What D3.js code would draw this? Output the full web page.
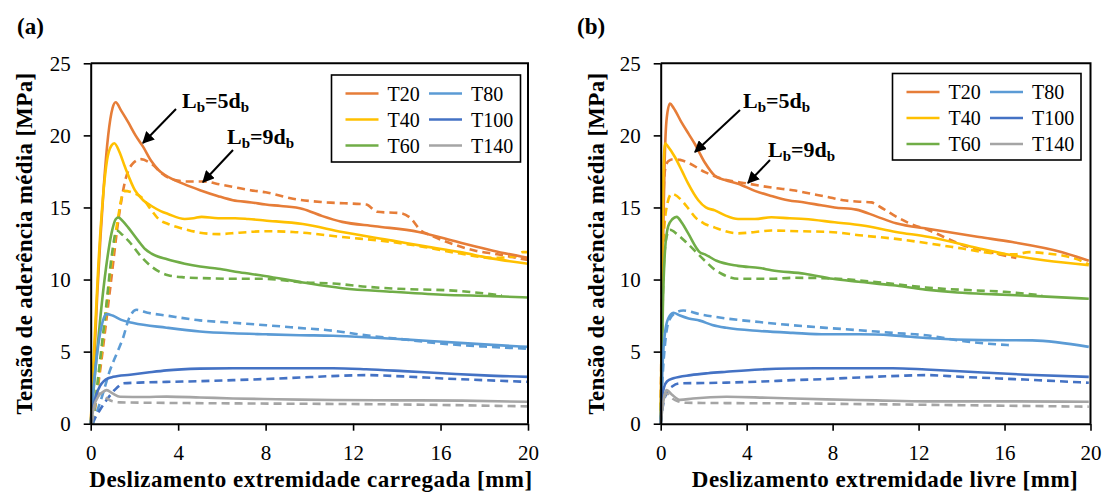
<!DOCTYPE html>
<html>
<head>
<meta charset="utf-8">
<script src="https://cdn.jsdelivr.net/npm/d3@7"></script>
<style>
  html, body { margin: 0; padding: 0; background: #fff; }
  svg { display: block; }
</style>
</head>
<body>
<svg id="chart" width="1107" height="493"></svg>
<script>
// Bond stress vs slip, two panels: (a) loaded end, (b) free end.
// Solid = Lb=5db, dashed = Lb=9db. [slip mm, stress MPa].

const SERIES_NAMES = ["T20", "T40", "T60", "T80", "T100", "T140"];
const X_TICKS = [0, 4, 8, 12, 16, 20];
const Y_TICKS = [0, 5, 10, 15, 20, 25];

// ---- panel (a): loaded end ----
const a5_T20 = [[0,0],[0.15,4],[0.3,9],[0.45,13],[0.6,16.5],[0.8,20],[1.0,21.9],[1.14,22.3],[1.4,21.7],[1.72,20.9],[2.05,20.0],[2.4,19.2],[2.78,18.2],[3.1,17.6],[3.4,17.25],[4.3,16.6],[5.0,16.2],[5.8,15.8],[6.5,15.5],[7.35,15.35],[8.0,15.2],[8.7,15.1],[9.7,14.9],[10.6,14.4],[11.5,14.0],[13.0,13.7],[15.0,13.3],[16.8,12.6],[18.4,12.0],[20,11.5]];
const a9_T20 = [[0.1,0],[0.5,4.5],[0.9,9.5],[1.3,14.5],[1.6,17],[1.9,18],[2.3,18.35],[2.8,18],[3.3,17.3],[3.85,16.9],[4.5,16.8],[5.2,16.8],[5.9,16.6],[6.6,16.4],[7.3,16.2],[8.0,16.05],[9.25,15.6],[10.8,15.35],[12.6,15.2],[13.1,14.7],[14.2,14.6],[14.6,14.3],[15.1,13.4],[15.5,13.1],[16.3,12.6],[17.6,12.0],[18.6,11.75],[20,11.35]];
const a5_T40 = [[0,0],[0.15,5],[0.35,11],[0.55,15.5],[0.75,18.3],[0.95,19.3],[1.08,19.45],[1.3,18.9],[1.57,17.8],[2.02,16.2],[2.4,15.5],[2.78,15.1],[3.2,14.75],[3.54,14.55],[4.3,14.2],[4.7,14.25],[5.07,14.35],[5.83,14.25],[6.6,14.25],[7.2,14.2],[7.96,14.1],[9.7,13.85],[11.5,13.3],[13.8,12.7],[15.3,12.3],[16.9,11.9],[18.4,11.45],[20,11.1]];
const a9_T40 = [[0.1,0],[0.5,5],[0.9,10.5],[1.2,13.8],[1.54,16.15],[1.87,16.05],[2.33,15.7],[2.78,14.8],[3.1,14.2],[3.54,13.85],[4.3,13.5],[5.0,13.25],[5.83,13.15],[6.8,13.25],[7.96,13.35],[9.25,13.3],[11.5,12.95],[13.8,12.6],[15.3,12.25],[16.9,11.8],[18.4,11.5],[19.4,11.6],[19.75,11.9],[20,11.9]];
const a5_T60 = [[0,0],[0.2,3.5],[0.45,7.5],[0.7,10.8],[0.95,13.2],[1.15,14.2],[1.26,14.3],[1.5,14],[1.72,13.6],[2.17,12.7],[2.5,12.1],[2.78,11.8],[3.5,11.4],[4.3,11.1],[5.0,10.9],[5.83,10.75],[6.8,10.5],[7.96,10.25],[9.7,9.8],[11.5,9.4],[13.8,9.15],[16.1,8.95],[18.4,8.85],[20,8.75]];
const a9_T60 = [[0.1,0],[0.4,4],[0.7,8],[0.95,11.5],[1.19,13.4],[1.45,13.1],[1.72,12.7],[2.33,11.55],[2.78,10.9],[3.54,10.3],[4.3,10.15],[5.07,10.1],[6.5,10.05],[8.0,10.05],[9.7,9.8],[11.1,9.72],[12.6,9.5],[13.8,9.38],[16.9,9.2],[18.8,8.9]];
const a5_T80 = [[0,0],[0.15,2.8],[0.35,5.5],[0.55,7.1],[0.73,7.6],[1.0,7.5],[1.4,7.2],[1.95,6.98],[3.47,6.66],[4.99,6.4],[6.51,6.27],[8.04,6.2],[9.56,6.14],[11.08,6.1],[12.6,6.0],[14.3,5.85],[16.1,5.68],[18,5.5],[20,5.33]];
const a9_T80 = [[0.1,0],[0.5,1.8],[0.88,3.7],[1.2,4.9],[1.49,6.0],[1.75,7.3],[2.1,7.9],[2.6,7.7],[3.47,7.5],[4.99,7.17],[6.5,7.0],[8.04,6.83],[9.5,6.65],[11.08,6.45],[12.6,6.13],[14.3,5.85],[16.1,5.55],[18,5.35],[20,5.2]];
const a5_T100 = [[0,0],[0.1,1],[0.25,2],[0.42,2.6],[0.6,2.95],[0.8,3.15],[1.03,3.25],[1.8,3.4],[2.6,3.55],[3.47,3.7],[4.99,3.82],[6.5,3.85],[8.04,3.85],[11.08,3.85],[12.6,3.78],[14.3,3.65],[16.1,3.5],[18,3.35],[20,3.25]];
const a9_T100 = [[0.05,0],[0.4,0.9],[0.8,1.8],[1.2,2.5],[1.49,2.8],[2.2,2.85],[3.47,2.9],[5,2.95],[6.51,3.02],[8,3.1],[9.56,3.2],[11,3.3],[12.6,3.37],[14.3,3.28],[16.1,3.14],[18,3.02],[20,2.9]];
const a5_T140 = [[0,0],[0.15,1.2],[0.35,1.9],[0.55,2.2],[0.73,2.33],[1.0,2.1],[1.34,1.87],[2.5,1.85],[3.47,1.88],[5,1.82],[6.51,1.75],[8.5,1.7],[11.08,1.64],[14,1.62],[17,1.6],[20,1.52]];
const a9_T140 = [[0.05,0],[0.2,1.3],[0.42,2.1],[0.7,1.8],[1.0,1.55],[1.34,1.48],[3,1.45],[6.51,1.41],[10,1.38],[12.3,1.36],[16,1.3],[20,1.2]];

// ---- panel (b): free end ----
const b5_T20 = [[0,0],[0.05,6],[0.1,12],[0.18,18],[0.28,21.2],[0.43,22.2],[0.6,21.9],[0.97,20.9],[1.3,20.1],[1.59,19.4],[2.06,18.1],[2.52,17.2],[3.0,16.9],[3.6,16.65],[4.38,16.15],[5.15,15.8],[5.92,15.5],[6.7,15.35],[7.47,15.15],[8.09,15.0],[9.1,14.85],[10.0,14.4],[10.95,13.9],[12.5,13.5],[14.82,12.95],[16.36,12.6],[18.68,11.9],[19.92,11.3]];
const b9_T20 = [[0,0],[0.05,8],[0.1,14],[0.2,17.6],[0.35,18.2],[0.59,18.35],[0.9,18.3],[1.28,18.1],[2.06,17.45],[2.83,17.0],[4.07,16.65],[5.3,16.35],[6.15,16.2],[7.0,15.95],[7.7,15.75],[8.5,15.5],[9.25,15.4],[9.8,15.35],[10.2,15.05],[10.8,14.5],[11.5,13.95],[12.5,13.4],[14.04,12.4],[15.59,11.8],[16.55,11.5]];
const b5_T40 = [[0,0],[0.05,8],[0.1,15],[0.15,18.5],[0.2,19.45],[0.35,19.2],[0.66,18.5],[1.0,17.5],[1.28,16.65],[1.75,15.5],[2.1,15.0],[2.52,14.8],[3.0,14.45],[3.6,14.2],[4.38,14.2],[5.15,14.32],[6.0,14.25],[6.7,14.2],[8.09,13.97],[9.4,13.75],[10.95,13.3],[12.5,12.95],[14.82,12.15],[16.36,11.68],[17.91,11.32],[19.92,11.0]];
const b9_T40 = [[0,0],[0.05,6],[0.12,12],[0.25,14.8],[0.51,15.95],[0.97,15.5],[1.3,14.9],[1.59,14.35],[2.0,13.9],[2.52,13.6],[3.6,13.2],[4.4,13.3],[5.15,13.4],[6.5,13.35],[7.86,13.3],[9.4,13.05],[10.95,12.82],[12.5,12.5],[14.04,12.15],[15.59,11.8],[16.5,11.75],[17.14,11.9],[18.0,11.8],[18.68,11.67],[19.4,11.4],[19.92,11.05]];
const b5_T60 = [[0,0],[0.05,4],[0.1,8],[0.2,12],[0.35,13.7],[0.55,14.2],[0.74,14.35],[1.0,13.9],[1.28,13.2],[1.82,11.9],[2.06,11.75],[2.6,11.3],[3.6,10.95],[4.61,10.8],[5.15,10.65],[6.7,10.4],[8.0,10.05],[9.2,9.85],[10.8,9.6],[12.34,9.3],[13.8,9.1],[15.59,8.97],[17.5,8.85],[19.92,8.67]];
const b9_T60 = [[0,0],[0.05,5],[0.12,10],[0.25,12.8],[0.43,13.45],[0.8,13.1],[1.28,12.45],[2.06,11.3],[2.5,10.7],[2.83,10.4],[3.6,10.05],[5.15,10.05],[6.15,10.12],[7.5,10.1],[9.25,9.94],[10.8,9.7],[12.34,9.45],[14.5,9.25],[16.0,9.15],[17.75,8.9]];
const b5_T80 = [[0,0],[0.05,2.5],[0.1,4.5],[0.2,6.3],[0.35,7.3],[0.59,7.7],[0.9,7.5],[1.3,7.3],[1.82,7.15],[2.4,6.85],[3.06,6.65],[4.61,6.43],[6.15,6.3],[7.7,6.2],[9.25,6.2],[10.8,6.13],[12.34,5.95],[14.97,5.8],[17.29,5.78],[19.92,5.33]];
const b9_T80 = [[0,0],[0.08,3],[0.2,5.5],[0.4,7.2],[0.7,7.7],[1.05,7.85],[1.8,7.6],[3.06,7.3],[4.6,7.05],[6.15,6.83],[7.7,6.65],[9.25,6.48],[10.8,6.3],[12.34,6.13],[14.2,5.7],[16.2,5.45]];
const b5_T100 = [[0,0],[0.05,1.5],[0.15,2.5],[0.3,2.95],[0.59,3.15],[1.4,3.37],[2.2,3.5],[3.06,3.6],[4.61,3.76],[6,3.83],[7.7,3.85],[10.8,3.85],[12.34,3.76],[14.97,3.55],[17,3.4],[19.92,3.25]];
const b9_T100 = [[0,0],[0.1,1.2],[0.3,2.2],[0.55,2.6],[0.9,2.8],[2,2.82],[3.06,2.85],[4.6,2.92],[6.15,3.02],[7.7,3.1],[9.25,3.21],[11.1,3.32],[12.34,3.37],[14,3.25],[15.74,3.14],[17.8,3.0],[19.92,2.84]];
const b5_T140 = [[0,0],[0.1,1.3],[0.2,2.1],[0.28,2.33],[0.5,2.05],[0.9,1.65],[1.5,1.75],[3.06,1.87],[5,1.8],[7.7,1.69],[10,1.62],[12.34,1.55],[16,1.55],[19.92,1.52]];
const b9_T140 = [[0,0],[0.1,1.4],[0.28,2.1],[0.5,1.8],[0.8,1.55],[1.2,1.45],[3,1.43],[6.15,1.41],[10,1.35],[13,1.3],[16,1.25],[19.92,1.18]];

const COLORS = ["#E67D38", "#FFC000", "#70AD47", "#5B9BD5", "#4472C4", "#A5A5A5"];

const FONT = "'Liberation Serif', 'Times New Roman', Times, serif";
const LINE_W = 2.6;
const DASH = "8,5";

const svg = d3.select("#chart");

// arrowhead for the annotation pointers
svg.append("defs").append("marker")
  .attr("id", "arrow")
  .attr("viewBox", "0 0 10 10")
  .attr("refX", 9).attr("refY", 5)
  .attr("markerWidth", 6).attr("markerHeight", 6)
  .attr("orient", "auto")
  .append("path")
  .attr("d", "M0,0 L10,5 L0,10 z")
  .attr("fill", "#000");

const PANELS = [
  {
    label: "(a)", labelX: 17,
    left: 90.7, right: 528,
    solid: [a5_T20, a5_T40, a5_T60, a5_T80, a5_T100, a5_T140],
    dashed: [a9_T20, a9_T40, a9_T60, a9_T80, a9_T100, a9_T140],
    xTitle: "Deslizamento extremidade carregada [mm]", xTitleX: 311,
    yTitleX: 32,
    legend: { x: 331.5, y: 75, w: 189, h: 87 },
    notes: [
      { text: "=5d", tx: 182, ty: 108, from: [176, 109], to: [143, 143] },
      { text: "=9d", tx: 227, ty: 144, from: [233, 150], to: [203, 182] },
    ],
  },
  {
    label: "(b)", labelX: 577,
    left: 660.7, right: 1090.5,
    solid: [b5_T20, b5_T40, b5_T60, b5_T80, b5_T100, b5_T140],
    dashed: [b9_T20, b9_T40, b9_T60, b9_T80, b9_T100, b9_T140],
    xTitle: "Deslizamento extremidade livre [mm]", xTitleX: 885,
    yTitleX: 604,
    legend: { x: 892.5, y: 73.5, w: 188.5, h: 86.5 },
    notes: [
      { text: "=5d", tx: 743, ty: 108, from: [740, 110], to: [695, 152] },
      { text: "=9d", tx: 768, ty: 157, from: [770, 160], to: [748, 183] },
    ],
  },
];

const TOP = 63.3, BOTTOM = 423.7;

function drawPanel(p) {
  const x = d3.scaleLinear().domain([0, 20]).range([p.left, p.right]);
  const y = d3.scaleLinear().domain([0, 25]).range([BOTTOM, TOP]);
  const g = svg.append("g");

  const line = d3.line()
    .x(d => x(d[0]))
    .y(d => y(d[1]))
    .curve(d3.curveMonotoneX);

  // dashed (9db) under solid (5db)
  p.dashed.forEach((pts, i) => {
    g.append("path").datum(pts)
      .attr("d", line)
      .attr("fill", "none")
      .attr("stroke", COLORS[i])
      .attr("stroke-width", LINE_W)
      .attr("stroke-dasharray", DASH);
  });
  p.solid.forEach((pts, i) => {
    g.append("path").datum(pts)
      .attr("d", line)
      .attr("fill", "none")
      .attr("stroke", COLORS[i])
      .attr("stroke-width", LINE_W)
      .attr("stroke-linejoin", "round");
  });

  // axes
  const xAxis = g.append("g")
    .attr("transform", `translate(0,${BOTTOM})`)
    .call(d3.axisBottom(x).tickValues(X_TICKS).tickSize(7).tickSizeOuter(0).tickPadding(14));
  const yAxis = g.append("g")
    .attr("transform", `translate(${p.left},0)`)
    .call(d3.axisLeft(y).tickValues(Y_TICKS).tickSize(7).tickSizeOuter(0).tickPadding(13));

  [xAxis, yAxis].forEach(ax => {
    ax.attr("font-family", FONT);
    ax.select(".domain").attr("stroke", "#000").attr("stroke-width", 2);
    ax.selectAll(".tick line").attr("stroke", "#000").attr("stroke-width", 1.6);
    ax.selectAll(".tick text")
      .attr("font-family", FONT)
      .attr("font-size", "21px")
      .attr("fill", "#000");
  });
  yAxis.selectAll(".tick text").attr("dy", "0.34em");

  // frame: top + right
  g.append("path")
    .attr("d", `M${p.left},${TOP}H${p.right}V${BOTTOM}`)
    .attr("fill", "none")
    .attr("stroke", "#000")
    .attr("stroke-width", 2);

  // axis titles
  g.append("text")
    .attr("x", p.xTitleX).attr("y", 487)
    .attr("text-anchor", "middle")
    .attr("font-family", FONT)
    .attr("font-weight", "bold")
    .attr("font-size", "23px")
    .attr("letter-spacing", "0.5px")
    .text(p.xTitle);

  g.append("text")
    .attr("transform", `translate(${p.yTitleX},${(TOP + BOTTOM) / 2}) rotate(-90)`)
    .attr("text-anchor", "middle")
    .attr("font-family", FONT)
    .attr("font-weight", "bold")
    .attr("font-size", "23px")
    .attr("letter-spacing", "0.3px")
    .text("Tensão de aderência média [MPa]");

  // panel label
  g.append("text")
    .attr("x", p.labelX).attr("y", 34)
    .attr("font-family", FONT)
    .attr("font-weight", "bold")
    .attr("font-size", "23px")
    .text(p.label);

  // legend, 2 columns x 3 rows
  const lg = p.legend;
  g.append("rect")
    .attr("x", lg.x).attr("y", lg.y)
    .attr("width", lg.w).attr("height", lg.h)
    .attr("fill", "#fff")
    .attr("stroke", "#000")
    .attr("stroke-width", 1.6);

  SERIES_NAMES.forEach((name, i) => {
    const col = Math.floor(i / 3), row = i % 3;
    const lx = lg.x + 14 + col * 83.5;
    const ly = lg.y + 18.5 + row * 26;
    g.append("line")
      .attr("x1", lx).attr("x2", lx + 33)
      .attr("y1", ly).attr("y2", ly)
      .attr("stroke", COLORS[i])
      .attr("stroke-width", LINE_W);
    g.append("text")
      .attr("x", lx + 42).attr("y", ly + 7)
      .attr("font-family", FONT)
      .attr("font-size", "20px")
      .text(name);
  });

  // Lb annotations with arrows
  p.notes.forEach(n => {
    const t = g.append("text")
      .attr("x", n.tx).attr("y", n.ty)
      .attr("font-family", FONT)
      .attr("font-weight", "bold")
      .attr("font-size", "22px");
    t.append("tspan").text("L");
    t.append("tspan").attr("font-size", "15px").attr("dy", 4).text("b");
    t.append("tspan").attr("dy", -4).text(n.text);
    t.append("tspan").attr("font-size", "15px").attr("dy", 4).text("b");

    g.append("line")
      .attr("x1", n.from[0]).attr("y1", n.from[1])
      .attr("x2", n.to[0]).attr("y2", n.to[1])
      .attr("stroke", "#000")
      .attr("stroke-width", 2)
      .attr("marker-end", "url(#arrow)");
  });
}

PANELS.forEach(drawPanel);
</script>
</body>
</html>
